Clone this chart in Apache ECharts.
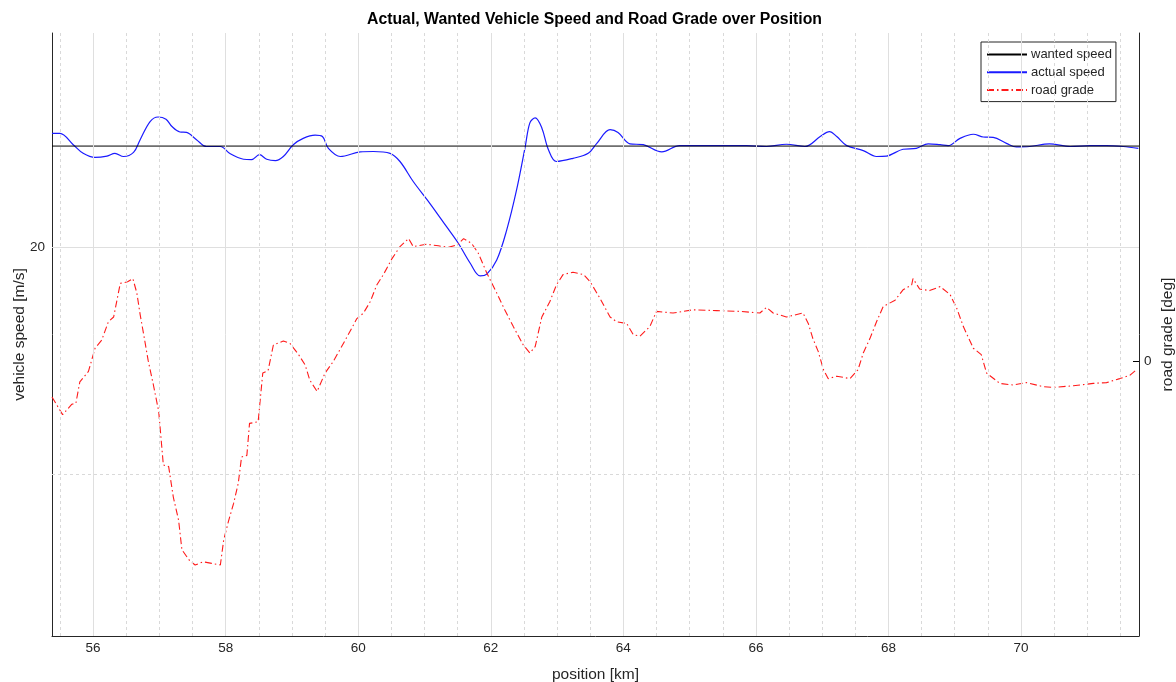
<!DOCTYPE html>
<html>
<head>
<meta charset="utf-8">
<script src="https://cdn.jsdelivr.net/npm/echarts@6/dist/echarts.min.js"></script>
<style>
  html, body { margin: 0; padding: 0; background: #fff; }
  #chart { width: 1176px; height: 682px; }
</style>
</head>
<body>
<div id="chart"></div>
<script>
// Position along the route [km] and measured vehicle speed [m/s]
const speedPos = [55.38, 55.50, 55.70, 55.85, 56.03, 56.21, 56.33, 56.46, 56.61, 56.71, 56.86, 56.98, 57.10, 57.19, 57.31, 57.41, 57.56, 57.71, 57.92, 58.07, 58.27, 58.39, 58.51, 58.62, 58.75, 58.87, 59.02, 59.17, 59.35, 59.46, 59.55, 59.73, 60.03, 60.23, 60.48, 60.63, 60.83, 61.08, 61.33, 61.51, 61.69, 61.84, 61.94, 62.09, 62.24, 62.39, 62.52, 62.59, 62.67, 62.77, 62.87, 62.99, 63.24, 63.47, 63.60, 63.80, 63.92, 64.10, 64.30, 64.58, 64.85, 65.35, 65.86, 66.16, 66.46, 66.74, 66.97, 67.11, 67.22, 67.37, 67.62, 67.82, 67.97, 68.22, 68.42, 68.60, 68.78, 68.90, 69.08, 69.28, 69.43, 69.58, 69.78, 69.93, 70.13, 70.43, 70.74, 71.04, 71.29, 71.54, 71.77];
const actualSpeed = [22.50, 22.50, 22.25, 22.06, 21.97, 22.00, 22.06, 21.99, 22.08, 22.36, 22.76, 22.86, 22.81, 22.65, 22.53, 22.52, 22.36, 22.21, 22.21, 22.05, 21.93, 21.92, 22.03, 21.93, 21.90, 21.99, 22.25, 22.39, 22.46, 22.43, 22.17, 21.99, 22.09, 22.10, 22.06, 21.88, 21.44, 20.96, 20.45, 20.08, 19.64, 19.36, 19.40, 19.71, 20.37, 21.26, 22.21, 22.73, 22.84, 22.62, 22.14, 21.88, 21.95, 22.06, 22.28, 22.58, 22.52, 22.27, 22.25, 22.09, 22.23, 22.23, 22.23, 22.21, 22.26, 22.21, 22.43, 22.54, 22.43, 22.23, 22.12, 21.99, 22.00, 22.15, 22.17, 22.27, 22.25, 22.23, 22.39, 22.48, 22.42, 22.41, 22.28, 22.20, 22.21, 22.27, 22.21, 22.23, 22.23, 22.21, 22.17];

// Set-point speed [m/s]
const wantedPos = [55.38, 71.78];
const wantedSpeed = [22.22, 22.22];

// Road grade [deg] along the route
const gradePos = [55.38, 55.54, 55.68, 55.74, 55.80, 55.93, 56.03, 56.13, 56.23, 56.31, 56.41, 56.52, 56.60, 56.66, 56.71, 56.77, 56.83, 56.91, 56.99, 57.06, 57.14, 57.21, 57.29, 57.34, 57.46, 57.54, 57.66, 57.79, 57.92, 57.97, 58.04, 58.12, 58.19, 58.24, 58.32, 58.36, 58.49, 58.56, 58.64, 58.72, 58.87, 58.97, 59.10, 59.20, 59.27, 59.38, 59.50, 59.62, 59.75, 59.85, 59.98, 60.08, 60.18, 60.28, 60.38, 60.51, 60.63, 60.76, 60.83, 61.03, 61.21, 61.36, 61.49, 61.59, 61.71, 61.81, 61.94, 62.09, 62.21, 62.34, 62.49, 62.59, 62.67, 62.77, 62.89, 62.99, 63.09, 63.24, 63.40, 63.50, 63.65, 63.80, 63.90, 64.05, 64.15, 64.25, 64.40, 64.50, 64.75, 65.05, 65.41, 65.76, 66.06, 66.16, 66.26, 66.46, 66.71, 66.79, 66.86, 66.94, 67.02, 67.09, 67.22, 67.42, 67.54, 67.62, 67.72, 67.82, 67.92, 68.10, 68.22, 68.35, 68.37, 68.47, 68.62, 68.78, 68.93, 69.03, 69.13, 69.28, 69.40, 69.48, 69.68, 69.88, 70.08, 70.33, 70.48, 70.79, 71.09, 71.29, 71.49, 71.64, 71.74];
const roadGrade = [-0.45, -0.67, -0.54, -0.53, -0.26, -0.13, 0.16, 0.26, 0.49, 0.55, 0.97, 0.99, 1.03, 0.85, 0.58, 0.30, 0.01, -0.30, -0.63, -1.30, -1.32, -1.70, -1.99, -2.36, -2.50, -2.55, -2.51, -2.53, -2.55, -2.24, -2.01, -1.78, -1.53, -1.20, -1.18, -0.78, -0.76, -0.15, -0.12, 0.20, 0.25, 0.22, 0.08, -0.05, -0.24, -0.38, -0.15, -0.01, 0.18, 0.33, 0.53, 0.60, 0.74, 0.95, 1.08, 1.28, 1.43, 1.53, 1.43, 1.46, 1.44, 1.42, 1.45, 1.53, 1.47, 1.35, 1.10, 0.85, 0.64, 0.43, 0.20, 0.10, 0.18, 0.55, 0.74, 0.95, 1.08, 1.11, 1.08, 0.99, 0.78, 0.55, 0.49, 0.47, 0.33, 0.31, 0.43, 0.62, 0.60, 0.64, 0.63, 0.62, 0.60, 0.67, 0.60, 0.55, 0.60, 0.47, 0.28, 0.12, -0.11, -0.22, -0.19, -0.22, -0.11, 0.10, 0.28, 0.49, 0.68, 0.76, 0.89, 0.95, 1.03, 0.90, 0.88, 0.93, 0.83, 0.66, 0.43, 0.16, 0.08, -0.15, -0.28, -0.30, -0.27, -0.32, -0.33, -0.31, -0.28, -0.27, -0.22, -0.18, -0.11];

// Axis labels and grid positions
const xTicks = [56, 58, 60, 62, 64, 66, 68, 70];
const xMinorGrid = [55.5, 56.5, 57, 57.5, 58.5, 59, 59.5, 60.5, 61, 61.5, 62.5, 63, 63.5, 64.5, 65, 65.5, 66.5, 67, 67.5, 68.5, 69, 69.5, 70.5, 71, 71.5];
const speedTicks = [20];
const speedMinorGrid = [15];
const gradeTicks = [0];

const zip = (xs, ys) => xs.map((x, i) => [x, ys[i]]);

const FONT = '"Liberation Sans", Arial, Helvetica, sans-serif';
const TXT = '#262626';
const AXIS = '#262626';

const majorGridStyle = { color: '#dfdfdf', width: 1, type: 'solid' };
const minorGridStyle = { color: '#d9d9d9', width: 1, type: [3, 3] };

const gridLines = []
  .concat(xTicks.map(v => ({ xAxis: v, lineStyle: majorGridStyle })))
  .concat(xMinorGrid.map(v => ({ xAxis: v, lineStyle: minorGridStyle })))
  .concat(speedTicks.map(v => ({ yAxis: v, lineStyle: majorGridStyle })))
  .concat(speedMinorGrid.map(v => ({ yAxis: v, lineStyle: minorGridStyle })));

const chart = echarts.init(document.getElementById('chart'), null, { renderer: 'canvas' });

chart.setOption({
  animation: false,
  backgroundColor: '#ffffff',
  textStyle: { fontFamily: FONT },
  title: {
    text: 'Actual, Wanted Vehicle Speed and Road Grade over Position',
    left: 367,
    top: 12,
    padding: 0,
    textStyle: { fontFamily: FONT, fontSize: 15.8, fontWeight: 'bold', color: '#000' }
  },
  grid: {
    left: 52, right: 37, top: 33, bottom: 46,
    containLabel: false,
    outerBoundsMode: 'none'
  },
  legend: {
    orient: 'vertical',
    left: 981,
    top: 42,
    padding: [6, 4, 5, 5],
    itemWidth: 40,
    itemHeight: 12,
    itemGap: 4.8,
    backgroundColor: '#ffffff',
    borderColor: '#262626',
    borderWidth: 1,
    borderRadius: 0,
    itemStyle: { opacity: 0 },
    textStyle: { fontFamily: FONT, fontSize: 13, color: TXT, padding: [0, 0, 0, -1] },
    data: ['wanted speed', 'actual speed', 'road grade']
  },
  xAxis: {
    type: 'value',
    min: 55.38,
    max: 71.78,
    name: 'position [km]',
    nameLocation: 'middle',
    nameMoveOverlap: false,
    nameGap: 30.5,
    nameTextStyle: { fontFamily: FONT, fontSize: 15.5, color: TXT },
    axisLine: { show: true, onZero: false, lineStyle: { color: AXIS, width: 1 } },
    axisTick: { show: true, inside: true, length: 6, customValues: xTicks, lineStyle: { color: AXIS } },
    axisLabel: { customValues: xTicks, margin: 5, fontFamily: FONT, fontSize: 13.5, color: TXT },
    splitLine: { show: false },
    minorSplitLine: { show: false }
  },
  yAxis: [
    {
      type: 'value',
      position: 'left',
      min: 11.43,
      max: 24.71,
      name: 'vehicle speed [m/s]',
      nameLocation: 'middle',
      nameMoveOverlap: false,
      nameRotate: 90,
      nameGap: 24,
      nameTextStyle: { fontFamily: FONT, fontSize: 15.5, color: TXT },
      axisLine: { show: true, onZero: false, lineStyle: { color: AXIS, width: 1 } },
      axisTick: { show: true, inside: true, length: 6, customValues: speedTicks, lineStyle: { color: '#000' } },
      axisLabel: { customValues: speedTicks, margin: 7, fontFamily: FONT, fontSize: 13.5, color: TXT },
      splitLine: { show: false }
    },
    {
      type: 'value',
      position: 'right',
      min: -3.4375,
      max: 4.1,
      name: 'road grade [deg]',
      nameLocation: 'middle',
      nameMoveOverlap: false,
      nameRotate: 90,
      nameGap: 21,
      nameTextStyle: { fontFamily: FONT, fontSize: 15.5, color: TXT },
      axisLine: { show: true, onZero: false, lineStyle: { color: AXIS, width: 1 } },
      axisTick: { show: true, inside: true, length: 6, customValues: gradeTicks, lineStyle: { color: '#000' } },
      axisLabel: { customValues: gradeTicks, margin: 5, fontFamily: FONT, fontSize: 13.5, color: TXT },
      splitLine: { show: false }
    }
  ],
  series: [
    {
      // background grid lines
      name: '_grid',
      type: 'line',
      data: [],
      z: 0,
      silent: true,
      markLine: {
        silent: true,
        symbol: ['none', 'none'],
        label: { show: false },
        animation: false,
        data: gridLines
      }
    },
    {
      name: 'wanted speed',
      type: 'line',
      yAxisIndex: 0,
      data: zip(wantedPos, wantedSpeed),
      showSymbol: false,
      symbol: 'none',
      lineStyle: { color: '#000000', width: 1 },
      itemStyle: { color: '#000000' },
      z: 4
    },
    {
      name: 'actual speed',
      type: 'line',
      yAxisIndex: 0,
      data: zip(speedPos, actualSpeed),
      smooth: 0.35,
      showSymbol: false,
      symbol: 'none',
      lineStyle: { color: '#1a1aff', width: 1.2 },
      itemStyle: { color: '#1a1aff' },
      z: 3
    },
    {
      name: 'road grade',
      type: 'line',
      yAxisIndex: 1,
      data: zip(gradePos, roadGrade),
      showSymbol: false,
      symbol: 'none',
      lineStyle: { color: '#ff1a1a', width: 1.1, type: [7, 3, 1.5, 3] },
      itemStyle: { color: '#ff1a1a' },
      z: 3
    }
  ]
});
</script>
</body>
</html>
